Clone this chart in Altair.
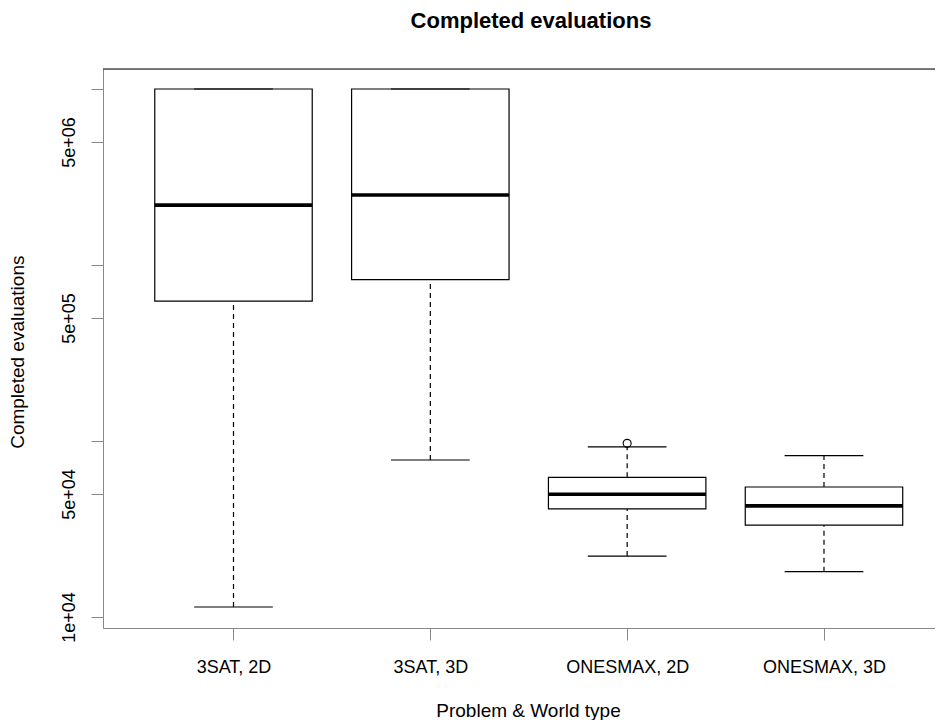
import altair as alt
import pandas as pd

categories = ["3SAT, 2D", "3SAT, 3D", "ONESMAX, 2D", "ONESMAX, 3D"]
lower_whisker = [11400, 78000, 22200, 18100]
q1 = [624000, 826000, 41200, 33300]
median = [2190000, 2500000, 49800, 42800]
q3 = [10000000, 10000000, 62200, 54800]
upper_whisker = [10000000, 10000000, 92500, 82500]
outlier_category = ["ONESMAX, 2D"]
outlier_value = [97000]

y_tick_values = [10000, 50000, 100000, 500000, 1000000, 5000000, 10000000]
y_tick_labels = ["1e+04", "5e+04", "", "5e+05", "", "5e+06", ""]

W, H = 832, 559
FONT = "Liberation Sans"

pos = list(range(1, len(categories) + 1))
df = pd.DataFrame({
    "cat": categories, "pos": pos,
    "lower": lower_whisker, "q1": q1, "median": median, "q3": q3, "upper": upper_whisker,
})
df["box_lo"] = df["pos"] - 0.4
df["box_hi"] = df["pos"] + 0.4
df["cap_lo"] = df["pos"] - 0.2
df["cap_hi"] = df["pos"] + 0.2

out_df = pd.DataFrame({"cat": outlier_category, "value": outlier_value})
out_df["pos"] = out_df["cat"].map({c: i + 1 for i, c in enumerate(categories)})

x_label_expr = "[" + ",".join("'" + c + "'" for c in categories) + "][datum.value - 1]"
y_label_expr = " : ".join(
    f"datum.value == {v} ? '{l}'" for v, l in zip(y_tick_values, y_tick_labels)
) + " : ''"

x_scale = alt.Scale(domain=[0.337, 4.564], nice=False, zero=False)
y_scale = alt.Scale(type="log", domain=[8660, 12993000], nice=False)

x_axis = alt.Axis(
    values=pos, labelExpr=x_label_expr, title="Problem & World type",
    tickSize=12, labelPadding=32, labelBaseline="alphabetic", labelAlign="center",
    labelFontSize=18, titleFontSize=19, titleFontWeight="normal",
    titleX=425, titleY=88, titleBaseline="alphabetic", titleAlign="center",
    grid=False, labelOverlap=False, labelFlush=False,
)
y_axis = alt.Axis(
    values=y_tick_values, labelExpr=y_label_expr, title="Completed evaluations",
    tickSize=12, labelPadding=16.5, labelAngle=270, labelAlign="center",
    labelBaseline="alphabetic", labelFontSize=18, titleFontSize=19,
    titleFontWeight="normal", titleAngle=270, titleX=-79.5, titleY=282.7,
    titleBaseline="alphabetic", titleAlign="center",
    grid=False, labelOverlap=False, labelFlush=False,
)

base = alt.Chart(df)

whisk_up = base.mark_rule(color="black", strokeWidth=1.2, strokeDash=[5, 4]).encode(
    x=alt.X("pos:Q", scale=x_scale, axis=x_axis),
    y=alt.Y("q3:Q", scale=y_scale, axis=y_axis),
    y2="upper:Q",
)
whisk_lo = base.mark_rule(color="black", strokeWidth=1.2, strokeDash=[5, 4]).encode(
    x=alt.X("pos:Q", scale=x_scale, axis=x_axis),
    y=alt.Y("lower:Q", scale=y_scale, axis=y_axis),
    y2="q1:Q",
)
cap_up = base.mark_rule(color="black", strokeWidth=1.2).encode(
    x=alt.X("cap_lo:Q", scale=x_scale, axis=x_axis),
    x2="cap_hi:Q",
    y=alt.Y("upper:Q", scale=y_scale, axis=y_axis),
)
cap_lo = base.mark_rule(color="black", strokeWidth=1.2).encode(
    x=alt.X("cap_lo:Q", scale=x_scale, axis=x_axis),
    x2="cap_hi:Q",
    y=alt.Y("lower:Q", scale=y_scale, axis=y_axis),
)
box = base.mark_rect(fill="white", stroke="black", strokeWidth=1.2).encode(
    x=alt.X("box_lo:Q", scale=x_scale, axis=x_axis),
    x2="box_hi:Q",
    y=alt.Y("q1:Q", scale=y_scale, axis=y_axis),
    y2="q3:Q",
)
med = base.mark_rule(color="black", strokeWidth=3.6).encode(
    x=alt.X("box_lo:Q", scale=x_scale, axis=x_axis),
    x2="box_hi:Q",
    y=alt.Y("median:Q", scale=y_scale, axis=y_axis),
)
outl = alt.Chart(out_df).mark_point(shape="circle", filled=False, color="black",
                                    strokeWidth=1.1, size=64, opacity=1).encode(
    x=alt.X("pos:Q", scale=x_scale, axis=x_axis),
    y=alt.Y("value:Q", scale=y_scale, axis=y_axis),
)
one = alt.Data(values=[{}])
top_line = alt.Chart(one).mark_rule(color="black", strokeWidth=1.2).encode(
    x=alt.value(0), x2=alt.value(W), y=alt.value(0)
)
title = alt.Chart(one).mark_text(
    text="Completed evaluations", font=FONT, fontSize=22, fontWeight="bold",
    color="black", align="center", baseline="alphabetic",
).encode(x=alt.value(428), y=alt.value(-41))

chart = alt.layer(whisk_up, whisk_lo, box, cap_up, cap_lo, med, outl, top_line, title).properties(
    width=W, height=H,
    autosize=alt.AutoSizeParams(type="none"),
    padding={"left": 95, "top": 61, "right": 0, "bottom": 92},
).configure_view(stroke=None).configure_axis(
    labelFont=FONT, titleFont=FONT, labelColor="black", titleColor="black",
    domainColor="black", tickColor="black", domainWidth=1.2, tickWidth=1.2,
).configure(background="white")

chart.save("out.html", embed_options={"renderer": "svg", "actions": False})
